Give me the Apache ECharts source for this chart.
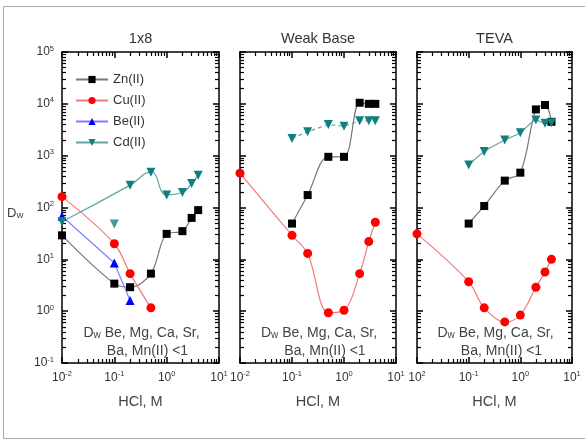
<!DOCTYPE html>
<html>
<head>
<meta charset="utf-8">
<script src="https://cdn.jsdelivr.net/npm/echarts@6/dist/echarts.min.js"></script>
<style>
  html, body { margin: 0; padding: 0; background: #fff; }
  #chart { width: 585px; height: 443px; }
</style>
</head>
<body>
<div id="chart"></div>
<script>
// HCl concentrations, M
const hclFull = [0.01, 0.1, 0.2, 0.5, 1, 2, 3, 4];
const hclNoLow = [0.1, 0.2, 0.5, 1, 2, 3, 4];

// panel 1: 1x8
const zn1 = [29, 3.4, 2.9, 5.3, 31, 35, 63, 89];
const cu1 = [162, 20, 5.3, 1.16];
const cu1X = [0.01, 0.1, 0.2, 0.5];
const be1 = [68, 8.5, 1.6];
const be1X = [0.01, 0.1, 0.2];
const cd1 = [53, 48, 270, 480, 175, 195, 290, 420];

// panel 2: Weak Base
const zn2 = [49, 174, 950, 950, 10500, 10000, 10000];
const cu2 = [460, 29, 13, 0.93, 1.04, 5.3, 22, 52];
const cd2 = [2150, 2900, 4000, 3700, 4700, 4700, 4700];

// panel 3: TEVA
const zn3 = [49, 107, 330, 470, 7800, 9500, 4500];
const cu3 = [31, 3.7, 1.16, 0.62, 0.84, 2.9, 5.7, 10];
const cd3 = [660, 1200, 2000, 2760, 4900, 4200, 4300];

const panelTitles = ['1x8', 'Weak Base', 'TEVA'];
const yTickExp = ['-1', '0', '1', '2', '3', '4', '5'];
const xTickExp = ['-2', '-1', '0', '1'];
const xTickExpTeva = ['2', '-1', '0', '1'];
const noteLine1 = 'Be, Mg, Ca, Sr,';
const noteLine2 = 'Ba, Mn(II) <1';

const C_ZN = '#000000', L_ZN = '#777777';
const C_CU = '#ff0000', L_CU = '#f07a7a';
const C_BE = '#0000ff', L_BE = '#7f7fff';
const C_CD = '#0e8080', L_CD = '#62a5a5';

const font = 'Arial, Liberation Sans';

const grids = [
  { left: 62, top: 52, width: 157, height: 311 },
  { left: 240, top: 52, width: 156, height: 311 },
  { left: 417, top: 52, width: 155, height: 311 }
];

const pair = (xs, ys) => ys.map((v, i) => [xs[i], v]);

const supRich = () => ({
  b: { fontSize: 12, color: '#333', fontFamily: font },
  s: { fontSize: 7.5, color: '#333', verticalAlign: 'top', padding: [0, 0, 7, 0], fontFamily: font }
});

// fresh axis object each time: major ticks, minor (2..9 per decade), all inward
function logAxis(gi, min, max, position, extra) {
  return Object.assign({
    type: 'log', gridIndex: gi, min: min, max: max, position: position,
    axisLine: { show: true, lineStyle: { color: '#000', width: 1.5 } },
    axisTick: { show: true, inside: true, length: 6, lineStyle: { color: '#000', width: 1.5 } },
    minorTick: { show: true, splitNumber: 9, length: 4, lineStyle: { color: '#000', width: 1.2 } },
    splitLine: { show: false },
    axisLabel: { show: false }
  }, extra || {});
}

const xAxes = [], yAxes = [], series = [];

grids.forEach((g, i) => {
  const labels = i === 2 ? xTickExpTeva : xTickExp;
  xAxes.push(logAxis(i, 0.01, 10, 'bottom', {
    name: 'HCl, M', nameLocation: 'middle', nameGap: 31,
    nameTextStyle: { fontSize: 14.5, color: '#444', fontFamily: font },
    axisLabel: {
      show: true, margin: 7,
      formatter: v => '{b|10}{s|' + labels[Math.round(Math.log10(v)) + 2] + '}',
      rich: supRich()
    }
  }));
  xAxes.push(logAxis(i, 0.01, 10, 'top'));
  yAxes.push(logAxis(i, 0.1, 100000, 'left', i === 0 ? {
    axisLabel: {
      show: true, margin: 8,
      formatter: v => '{b|10}{s|' + yTickExp[Math.round(Math.log10(v)) + 1] + '}',
      rich: supRich()
    }
  } : {}));
  yAxes.push(logAxis(i, 0.1, 100000, 'right'));
});

function lineSeries(name, gi, data, sym, color, lineColor, opts) {
  return Object.assign({
    name: name, type: 'line', xAxisIndex: gi * 2, yAxisIndex: gi * 2,
    data: data, smooth: 0.35, symbol: sym, symbolSize: sym === 'circle' ? 9 : 8,
    showSymbol: true,
    itemStyle: { color: color },
    lineStyle: { color: lineColor, width: 1.2 },
    z: 3
  }, opts || {});
}

// panel 1
series.push(lineSeries('Zn(II)', 0, pair(hclFull, zn1), 'rect', C_ZN, L_ZN));
series.push(lineSeries('Cu(II)', 0, pair(cu1X, cu1), 'circle', C_CU, L_CU));
series.push(lineSeries('Be(II)', 0, pair(be1X, be1), 'triangle', C_BE, L_BE, { smooth: false, symbolSize: 9 }));
// Cd(II) fit curve skips the 0.1 M point, which is drawn as a lone marker
series.push(lineSeries('Cd(II)', 0, pair(hclFull, cd1).filter((d, k) => k !== 1), 'triangle', C_CD, L_CD,
  { symbolRotate: 180, symbolSize: 9, smooth: 0.5 }));
series.push({
  type: 'scatter', xAxisIndex: 0, yAxisIndex: 0, data: [pair(hclFull, cd1)[1]],
  symbol: 'triangle', symbolRotate: 180, symbolSize: 9, itemStyle: { color: C_CD }, z: 4
});

// panel 2
series.push(lineSeries('Zn(II)', 1, pair(hclNoLow, zn2), 'rect', C_ZN, L_ZN));
series.push(lineSeries('Cu(II)', 1, pair(hclFull, cu2), 'circle', C_CU, L_CU));
series.push(lineSeries('Cd(II)', 1, pair(hclNoLow, cd2), 'triangle', C_CD, L_CD,
  { symbolRotate: 180, symbolSize: 9, smooth: false, lineStyle: { color: L_CD, width: 1.2, type: [4, 3] } }));

// panel 3
series.push(lineSeries('Zn(II)', 2, pair(hclNoLow, zn3), 'rect', C_ZN, L_ZN));
series.push(lineSeries('Cu(II)', 2, pair(hclFull, cu3), 'circle', C_CU, L_CU));
series.push(lineSeries('Cd(II)', 2, pair(hclNoLow, cd3), 'triangle', C_CD, L_CD,
  { symbolRotate: 180, symbolSize: 9, smooth: 0.2 }));

const graphics = [
  { type: 'rect', shape: { x: 3.5, y: 6.5, width: 600, height: 432 }, style: { fill: 'transparent', stroke: '#aaa', lineWidth: 1 }, silent: true, z: -10 },
  {
    type: 'text', left: 7, top: 207,
    style: {
      text: '{d|D}{w|w}', rich: { d: { fontSize: 13, fontFamily: font, fill: '#444' }, w: { fontSize: 9.5, fontFamily: font, fill: '#444', padding: [4, 0, 0, 0] } }
    }
  }
];
grids.forEach((g, i) => {
  const cx = g.left + g.width / 2;
  graphics.push({
    type: 'text', x: cx, y: 39,
    style: { text: panelTitles[i], font: '14.5px ' + font, fill: '#333', align: 'center', verticalAlign: 'middle' }
  });
  graphics.push({
    type: 'text', x: cx + 1, y: 333,
    style: {
      text: '{d|D}{w|w}{t| ' + noteLine1 + '}', align: 'center', verticalAlign: 'middle',
      rich: {
        d: { fontSize: 14, fontFamily: font, fill: '#444' },
        w: { fontSize: 10, fontFamily: font, fill: '#444', padding: [4, 0, 0, 0] },
        t: { fontSize: 14, fontFamily: font, fill: '#444' }
      }
    }
  });
  graphics.push({
    type: 'text', x: cx + 7, y: 351,
    style: { text: noteLine2, font: '14px ' + font, fill: '#444', align: 'center', verticalAlign: 'middle' }
  });
});

const chart = echarts.init(document.getElementById('chart'), null, { renderer: 'canvas' });
chart.setOption({
  backgroundColor: '#fff',
  animation: false,
  grid: grids,
  xAxis: xAxes,
  yAxis: yAxes,
  legend: {
    data: ['Zn(II)', 'Cu(II)', 'Be(II)', 'Cd(II)'],
    orient: 'vertical', left: 70, top: 68,
    itemWidth: 32, itemHeight: 9, itemGap: 8,
    textStyle: { fontSize: 13, color: '#333', fontFamily: font }
  },
  graphic: graphics,
  series: series
});
</script>
</body>
</html>
